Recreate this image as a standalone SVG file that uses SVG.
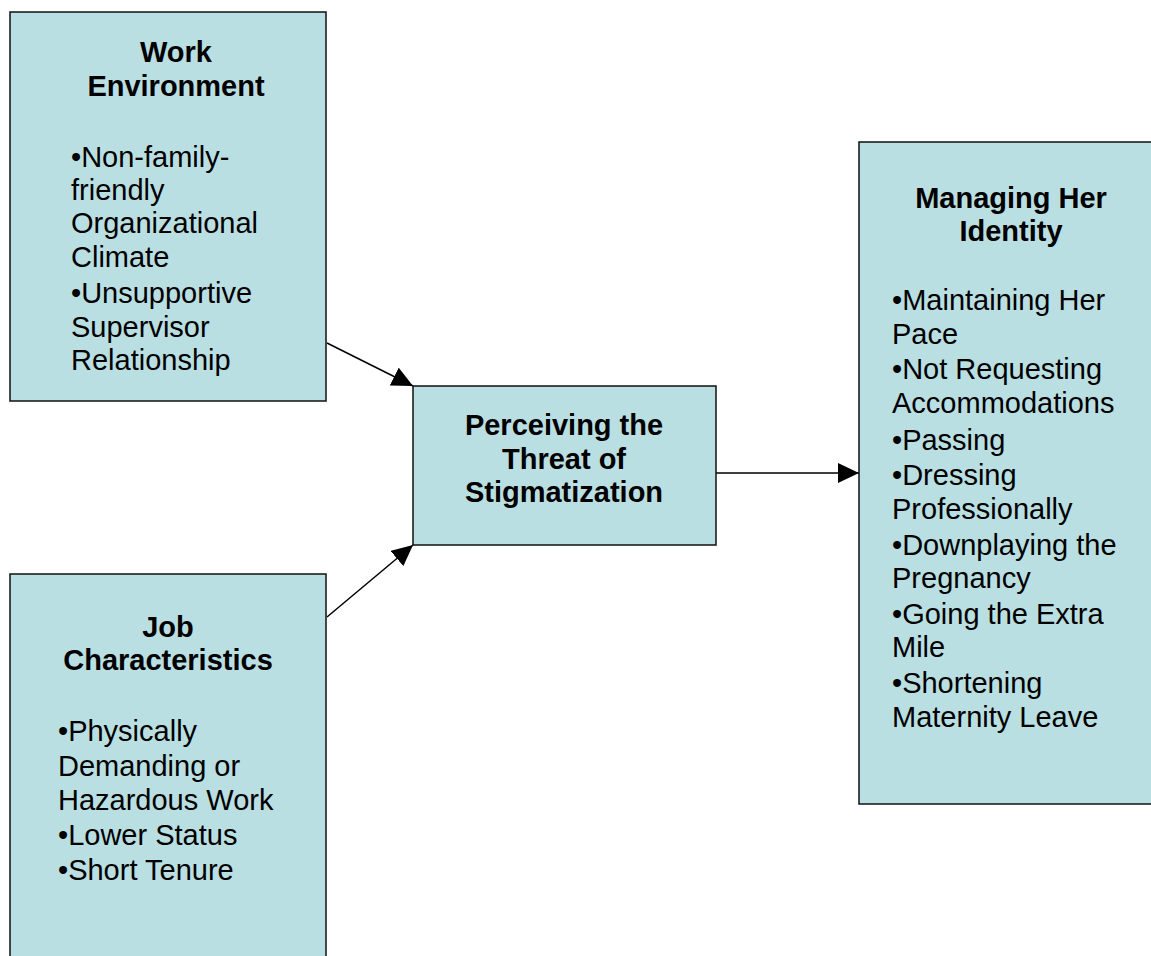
<svg xmlns="http://www.w3.org/2000/svg" width="1151" height="956" viewBox="0 0 1151 956">
<defs>
<style>
.box{fill:#BADFE2;stroke:#111;stroke-width:1.5}
.t{font-family:"Liberation Sans",Arial,sans-serif;font-size:29px;fill:#000}
.b{font-weight:bold;text-anchor:middle}
.edge{stroke:#000;stroke-width:1.5;fill:none}
</style>
<marker id="ah" markerUnits="userSpaceOnUse" markerWidth="22" markerHeight="20" refX="21" refY="10" orient="auto" viewBox="0 0 22 20">
<path d="M0,0 L21,10 L0,20 z" fill="#000"/>
</marker>
</defs>
<rect width="1151" height="956" fill="#fff"/>
<g id="connectors">
<line class="edge" x1="327" y1="343" x2="413" y2="386" marker-end="url(#ah)"/>
<line class="edge" x1="327" y1="617" x2="413" y2="545" marker-end="url(#ah)"/>
<line class="edge" x1="716" y1="473" x2="859" y2="473" marker-end="url(#ah)"/>
</g>
<g id="work-environment">
<rect class="box" x="10" y="12" width="316" height="389"/>
<text class="t b" x="176" y="62">Work</text>
<text class="t b" x="176" y="96">Environment</text>
<text class="t" x="71" y="167">•Non-family-</text>
<text class="t" x="71" y="200">friendly</text>
<text class="t" x="71" y="233">Organizational</text>
<text class="t" x="71" y="267">Climate</text>
<text class="t" x="71" y="303">•Unsupportive</text>
<text class="t" x="71" y="337">Supervisor</text>
<text class="t" x="71" y="370">Relationship</text>
</g>
<g id="job-characteristics">
<rect class="box" x="10" y="574" width="316" height="400"/>
<text class="t b" x="168" y="637">Job</text>
<text class="t b" x="168" y="670">Characteristics</text>
<text class="t" x="58" y="741">•Physically</text>
<text class="t" x="58" y="776">Demanding or</text>
<text class="t" x="58" y="810">Hazardous Work</text>
<text class="t" x="58" y="845">•Lower Status</text>
<text class="t" x="58" y="880">•Short Tenure</text>
</g>
<g id="perceiving-threat">
<rect class="box" x="413" y="386" width="303" height="159"/>
<text class="t b" x="564" y="435">Perceiving the</text>
<text class="t b" x="564" y="469">Threat of</text>
<text class="t b" x="564" y="502">Stigmatization</text>
</g>
<g id="managing-identity">
<rect class="box" x="859" y="142" width="310" height="662"/>
<text class="t b" x="1011" y="208">Managing Her</text>
<text class="t b" x="1011" y="241">Identity</text>
<text class="t" x="892" y="310">•Maintaining Her</text>
<text class="t" x="892" y="344">Pace</text>
<text class="t" x="892" y="379">•Not Requesting</text>
<text class="t" x="892" y="413">Accommodations</text>
<text class="t" x="892" y="450">•Passing</text>
<text class="t" x="892" y="485">•Dressing</text>
<text class="t" x="892" y="519">Professionally</text>
<text class="t" x="892" y="555">•Downplaying the</text>
<text class="t" x="892" y="588">Pregnancy</text>
<text class="t" x="892" y="624">•Going the Extra</text>
<text class="t" x="892" y="657">Mile</text>
<text class="t" x="892" y="693">•Shortening</text>
<text class="t" x="892" y="727">Maternity Leave</text>
</g>
</svg>
